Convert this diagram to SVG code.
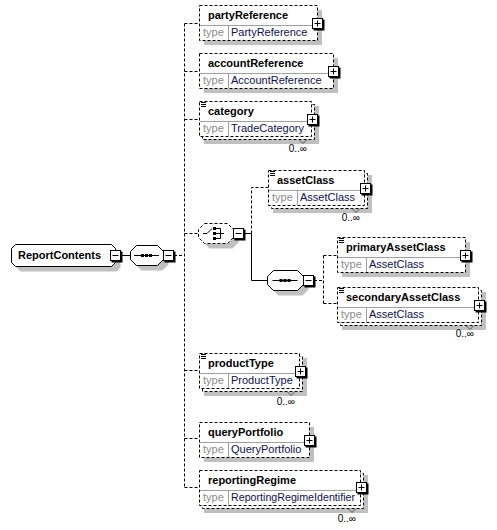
<svg xmlns="http://www.w3.org/2000/svg" xmlns:xlink="http://www.w3.org/1999/xlink" width="497" height="530" viewBox="0 0 497 530">
<style>
.box{fill:#fff;stroke:#000;stroke-dasharray:3,2}
.sbox{fill:#fff;stroke:#000}
.sh{fill:#c0c0c0}
.div{stroke:#a0a0a0;fill:none}
.nm{font-family:"Liberation Sans",Arial,sans-serif;font-weight:bold;font-size:11px;fill:#000}
.tl{font-family:"Liberation Sans",Arial,sans-serif;font-size:11px;fill:#8c8c8c}
.tv{font-family:"Liberation Sans",Arial,sans-serif;font-size:11px;fill:#10104a}
.occ{font-family:"Liberation Sans",Arial,sans-serif;font-size:10px;fill:#000;text-anchor:end}
.dc{fill:none;stroke:#000;stroke-dasharray:3,2}
.sc{fill:none;stroke:#000}
.ic{fill:none;stroke:#000}
.rep{fill:none;stroke:#555}
</style>
<defs>
<g id="pl"><rect x="-4" y="-4" width="11" height="11" fill="#000"/><rect x="-5" y="-5" width="10" height="10" fill="#fff" stroke="#000"/><path d="M-3,0H3M0,-3V3" stroke="#000"/></g>
<g id="mi"><rect x="-4" y="-4" width="11" height="11" fill="#000"/><rect x="-5" y="-5" width="10" height="10" fill="#fff" stroke="#000"/><path d="M-3,0H3" stroke="#000"/></g>
</defs>
<g id="connectors">
<path class="sc" d="M121,255.5H130"/>
<path class="dc" d="M174,255.5H184.5M184.5,23.5V487.5M184.5,23.5H199M184.5,71.5H199M184.5,119.5H199M184.5,233.5H198M184.5,370.5H199M184.5,438.5H199M184.5,487.5H199"/>
<path class="sc" d="M244,233.5H251.5M251.5,233.5V280.5H267"/>
<path class="dc" d="M251.5,233.5V187.5H268"/>
<path class="dc" d="M314,280.5H323.5M323.5,255.5V303.5M323.5,255.5H337M323.5,303.5H337"/>
</g>
<g id="ReportContents">
<path class="sh" d="M20.5,249.5H116.5L120.5,253.5V267.5L116.5,271.5H20.5L16.5,267.5V253.5Z"/>
<path class="sbox" d="M15.5,244.5H111.5L115.5,248.5V262.5L111.5,266.5H15.5L11.5,262.5V248.5Z"/>
<text class="nm" x="18" y="259">ReportContents</text>
<use xlink:href="#mi" x="115.5" y="255.5"/>
</g>
<g id="sequence1">
<path class="sh" d="M141.5,250.5H162.5L168.5,256.5V264.5L162.5,270.5H141.5L135.5,264.5V256.5Z"/>
<path class="sbox" d="M136.5,245.5H157.5L163.5,251.5V259.5L157.5,265.5H136.5L130.5,259.5V251.5Z"/>
<path class="sc" d="M134,255.5H159"/>
<rect x="141" y="254" width="3" height="3"/><rect x="145" y="254" width="3" height="3"/><rect x="149" y="254" width="3" height="3"/>
<use xlink:href="#mi" x="168.5" y="255.5"/>
</g>
<g id="partyReference">
<rect class="sh" x="204" y="10" width="118" height="35"/>
<rect class="box" x="199.5" y="5.5" width="118" height="35"/>
<path class="div" d="M200,25.5H317M228.5,26V40"/>
<text class="nm" x="208" y="19">partyReference</text>
<text class="tl" x="203" y="36">type</text>
<text class="tv" x="231" y="36">PartyReference</text>
<use xlink:href="#pl" x="317.5" y="23.5"/>
</g>
<g id="accountReference">
<rect class="sh" x="204" y="58" width="134" height="35"/>
<rect class="box" x="199.5" y="53.5" width="134" height="35"/>
<path class="div" d="M200,73.5H333M228.5,74V88"/>
<text class="nm" x="208" y="67">accountReference</text>
<text class="tl" x="203" y="84">type</text>
<text class="tv" x="231" y="84">AccountReference</text>
<use xlink:href="#pl" x="333.5" y="71.5"/>
</g>
<g id="category">
<rect class="sh" x="204" y="106" width="115" height="38"/>
<rect class="box" x="202.5" y="104.5" width="112" height="35"/>
<rect class="box" x="199.5" y="101.5" width="112" height="35"/>
<path class="div" d="M200,121.5H311M228.5,122V136"/>
<path class="ic" d="M201,102.5H206M201,104.5H206M201,106.5H206"/>
<text class="nm" x="208" y="115">category</text>
<text class="tl" x="203" y="132">type</text>
<text class="tv" x="231" y="132">TradeCategory</text>
<use xlink:href="#pl" x="312.5" y="119.5"/>
<path class="rep" d="M299,139.5L303,143.5L307,139.5"/>
<text class="occ" x="307" y="152">0..∞</text>
</g>
<g id="choice">
<path class="sh" d="M209.5,228.5H232.5L238.5,234.5V242.5L232.5,248.5H209.5L203.5,242.5V234.5Z"/>
<path class="box" d="M204.5,223.5H227.5L233.5,229.5V237.5L227.5,243.5H204.5L198.5,237.5V229.5Z"/>
<path class="sc" d="M203,233.5H207L212,228.5M216,228.5H220.5M216,233.5H224M216,238.5H220.5M220.5,228.5V238.5"/>
<rect x="213" y="227" width="3" height="3"/><rect x="213" y="232" width="3" height="3"/><rect x="213" y="237" width="3" height="3"/>
<use xlink:href="#mi" x="238.5" y="233.5"/>
</g>
<g id="assetClass">
<rect class="sh" x="273" y="175" width="99" height="38"/>
<rect class="box" x="271.5" y="173.5" width="96" height="35"/>
<rect class="box" x="268.5" y="170.5" width="96" height="35"/>
<path class="div" d="M269,190.5H364M297.5,191V205"/>
<path class="ic" d="M270,171.5H275M270,173.5H275M270,175.5H275"/>
<text class="nm" x="277" y="184">assetClass</text>
<text class="tl" x="272" y="201">type</text>
<text class="tv" x="300" y="201">AssetClass</text>
<use xlink:href="#pl" x="365.5" y="188.5"/>
<path class="rep" d="M352,208.5L356,212.5L360,208.5"/>
<text class="occ" x="360" y="221">0..∞</text>
</g>
<g id="sequence2">
<path class="sh" d="M278.5,275.5H302.5L308.5,281.5V289.5L302.5,295.5H278.5L272.5,289.5V281.5Z"/>
<path class="sbox" d="M273.5,270.5H297.5L303.5,276.5V284.5L297.5,290.5H273.5L267.5,284.5V276.5Z"/>
<path class="sc" d="M272.5,280.5H297.5"/>
<rect x="279.5" y="279" width="3" height="3"/><rect x="283.5" y="279" width="3" height="3"/><rect x="287.5" y="279" width="3" height="3"/>
<use xlink:href="#mi" x="308.5" y="280.5"/>
</g>
<g id="primaryAssetClass">
<rect class="sh" x="342" y="242" width="128" height="35"/>
<rect class="box" x="337.5" y="237.5" width="128" height="35"/>
<path class="div" d="M338,257.5H465M366.5,258V272"/>
<path class="ic" d="M339,238.5H344M339,240.5H344M339,242.5H344"/>
<text class="nm" x="346" y="251">primaryAssetClass</text>
<text class="tl" x="341" y="268">type</text>
<text class="tv" x="369" y="268">AssetClass</text>
<use xlink:href="#pl" x="465.5" y="255.5"/>
</g>
<g id="secondaryAssetClass">
<rect class="sh" x="342" y="292" width="144" height="38"/>
<rect class="box" x="340.5" y="290.5" width="141" height="35"/>
<rect class="box" x="337.5" y="287.5" width="141" height="35"/>
<path class="div" d="M338,307.5H478M366.5,308V322"/>
<path class="ic" d="M339,288.5H344M339,290.5H344M339,292.5H344"/>
<text class="nm" x="346" y="301">secondaryAssetClass</text>
<text class="tl" x="341" y="318">type</text>
<text class="tv" x="369" y="318">AssetClass</text>
<use xlink:href="#pl" x="479.5" y="305.5"/>
<path class="rep" d="M466,325.5L470,329.5L474,325.5"/>
<text class="occ" x="474" y="337">0..∞</text>
</g>
<g id="productType">
<rect class="sh" x="204" y="358" width="103" height="38"/>
<rect class="box" x="202.5" y="356.5" width="100" height="35"/>
<rect class="box" x="199.5" y="353.5" width="100" height="35"/>
<path class="div" d="M200,373.5H299M228.5,374V388"/>
<path class="ic" d="M201,354.5H206M201,356.5H206M201,358.5H206"/>
<text class="nm" x="208" y="367">productType</text>
<text class="tl" x="203" y="384">type</text>
<text class="tv" x="231" y="384">ProductType</text>
<use xlink:href="#pl" x="300.5" y="371.5"/>
<path class="rep" d="M287,391.5L291,395.5L295,391.5"/>
<text class="occ" x="295" y="405">0..∞</text>
</g>
<g id="queryPortfolio">
<rect class="sh" x="204" y="427" width="110" height="35"/>
<rect class="box" x="199.5" y="422.5" width="110" height="35"/>
<path class="div" d="M200,442.5H309M228.5,443V457"/>
<text class="nm" x="208" y="436">queryPortfolio</text>
<text class="tl" x="203" y="453">type</text>
<text class="tv" x="231" y="453">QueryPortfolio</text>
<use xlink:href="#pl" x="309.5" y="440.5"/>
</g>
<g id="reportingRegime">
<rect class="sh" x="204" y="475" width="164" height="38"/>
<rect class="box" x="202.5" y="473.5" width="161" height="35"/>
<rect class="box" x="199.5" y="470.5" width="161" height="35"/>
<path class="div" d="M200,490.5H360M228.5,491V505"/>
<text class="nm" x="208" y="484">reportingRegime</text>
<text class="tl" x="203" y="501">type</text>
<text class="tv" x="231" y="501" textLength="124" lengthAdjust="spacingAndGlyphs">ReportingRegimeIdentifier</text>
<use xlink:href="#pl" x="361.5" y="487.5"/>
<path class="rep" d="M348,508.5L352,512.5L356,508.5"/>
<text class="occ" x="356" y="522">0..∞</text>
</g>
</svg>
